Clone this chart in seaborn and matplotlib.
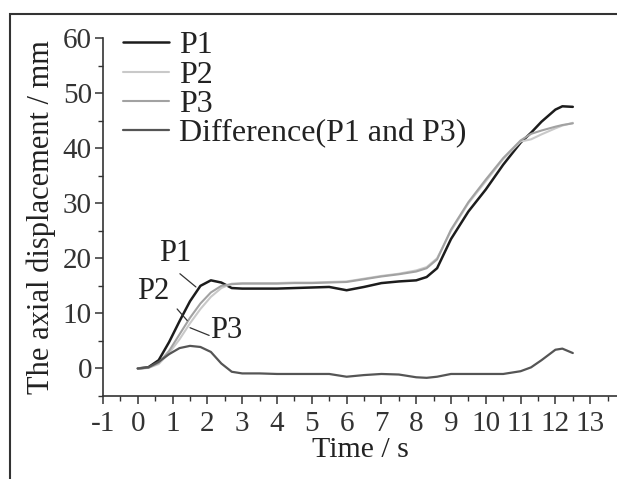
import matplotlib
matplotlib.use("Agg")
import matplotlib.pyplot as plt
from matplotlib.patches import Rectangle
from matplotlib.ticker import MultipleLocator
import pandas as pd
import seaborn as sns

# values
time = [0, 0.3, 0.6, 0.9, 1.2, 1.5, 1.8, 2.1, 2.4, 2.7, 3, 3.5, 4, 4.5, 5, 5.5, 6, 6.5,
        7, 7.5, 8, 8.3, 8.6, 9, 9.5, 10, 10.5, 11, 11.3, 11.6, 12, 12.2, 12.5]
p1 = [0, 0.2, 1.5, 4.8, 8.6, 12.2, 15.0, 16.0, 15.6, 14.6, 14.5, 14.5, 14.5, 14.6, 14.7, 14.8, 14.2, 14.8,
      15.5, 15.8, 16.0, 16.6, 18.2, 23.5, 28.5, 32.5, 37.0, 41.0, 42.8, 44.8, 47.0, 47.6, 47.5]
p2 = [0, 0.1, 0.8, 2.8, 5.3, 8.2, 10.8, 13.0, 14.6, 15.4, 15.5, 15.5, 15.5, 15.6, 15.6, 15.7, 15.8, 16.3,
      16.8, 17.2, 17.8, 18.4, 20.0, 25.0, 30.0, 34.0, 38.0, 41.2, 41.6, 42.5, 43.6, 44.1, 44.6]
p3 = [0, 0.1, 1.0, 3.2, 6.2, 9.2, 11.8, 13.8, 15.0, 15.3, 15.4, 15.4, 15.4, 15.5, 15.5, 15.6, 15.7, 16.2,
      16.7, 17.1, 17.6, 18.2, 19.8, 25.2, 30.2, 34.3, 38.2, 41.4, 42.6, 43.2, 43.9, 44.2, 44.5]
diff = [0, 0.2, 1.2, 2.6, 3.7, 4.1, 3.9, 3.0, 0.9, -0.6, -0.9, -0.9, -1.0, -1.0, -1.0, -1.0, -1.5, -1.2,
        -1.0, -1.1, -1.6, -1.7, -1.5, -1.0, -1.0, -1.0, -1.0, -0.5, 0.2, 1.5, 3.4, 3.6, 2.8]

names = ["P1", "P2", "P3", "Difference(P1 and P3)"]
colors = ["#1c1c1c", "#c9c9c9", "#a2a2a2", "#555555"]
widths = [1.8, 1.5, 1.5, 1.6]

# curve labels: text position and leader line ends
curve_labels = ["P1", "P2", "P3"]
label_xy = [(1.07, 20.9), (0.45, 13.9), (2.55, 6.9)]
leader_x = [(1.21, 1.67), (1.13, 1.42), (1.5, 2.05)]
leader_y = [(17.2, 14.8), (10.8, 8.7), (7.4, 6.0)]

frames = []
for name, vals in zip(names, [p1, p2, p3, diff]):
    frames.append(pd.DataFrame({"Time": time, "Disp": vals, "Series": name}))
df = pd.concat(frames, ignore_index=True)

sns.set_style("ticks")
plt.rcParams["font.family"] = ["Liberation Serif", "DejaVu Serif"]
plt.rcParams["axes.unicode_minus"] = False
plt.rcParams["text.color"] = "#222222"
plt.rcParams["axes.labelcolor"] = "#222222"
plt.rcParams["xtick.color"] = "#333333"
plt.rcParams["ytick.color"] = "#333333"

fig = plt.figure(figsize=(6.17, 4.79), dpi=100)
ax = fig.add_axes([103 / 617, 1 - 396 / 479, 1 - 103 / 617, 358 / 479])

for name, c, lw in zip(names, colors, widths):
    sns.lineplot(data=df[df["Series"] == name], x="Time", y="Disp", color=c,
                 linewidth=lw, label=name, ax=ax)

ax.set_xlim(-1, 13.77)
ax.set_ylim(-5, 60)
ax.xaxis.set_major_locator(MultipleLocator(1))
ax.xaxis.set_minor_locator(MultipleLocator(0.5))
ax.yaxis.set_major_locator(MultipleLocator(10))
ax.yaxis.set_minor_locator(MultipleLocator(5))
ax.tick_params(which="major", direction="out", length=6, width=1.1, labelsize=21)
ax.tick_params(which="minor", direction="out", length=3.5, width=1.0)
ax.tick_params(axis="x", which="major", pad=5)
ax.tick_params(axis="y", which="major", pad=2)
for s in ["top", "right"]:
    ax.spines[s].set_visible(False)
for s in ["left", "bottom"]:
    ax.spines[s].set_color("#333333")
    ax.spines[s].set_linewidth(1.2)

ax.set_xlabel("Time / s", fontsize=21.5, labelpad=0)
ax.set_ylabel("The axial displacement / mm", fontsize=22, labelpad=5)

ax.legend(loc="upper left", bbox_to_anchor=(123 / 617, 1 - 31 / 479),
          bbox_transform=fig.transFigure, frameon=False, fontsize=23,
          handlelength=1.45, handletextpad=0.3, labelspacing=0.0, borderpad=0,
          borderaxespad=0)

for lab, (tx, ty), lx, ly in zip(curve_labels, label_xy, leader_x, leader_y):
    ax.text(tx, ty, lab, fontsize=22, ha="center", va="center")
    ax.plot(lx, ly, color="#333333", lw=0.9)

# outer frame of the figure
fig.patches.append(Rectangle((10 / 617, -0.1), 1.2, 1.1 - 14 / 479, transform=fig.transFigure,
                             fill=False, edgecolor="#333333", linewidth=1.5))

fig.savefig("out.png", dpi=100)
